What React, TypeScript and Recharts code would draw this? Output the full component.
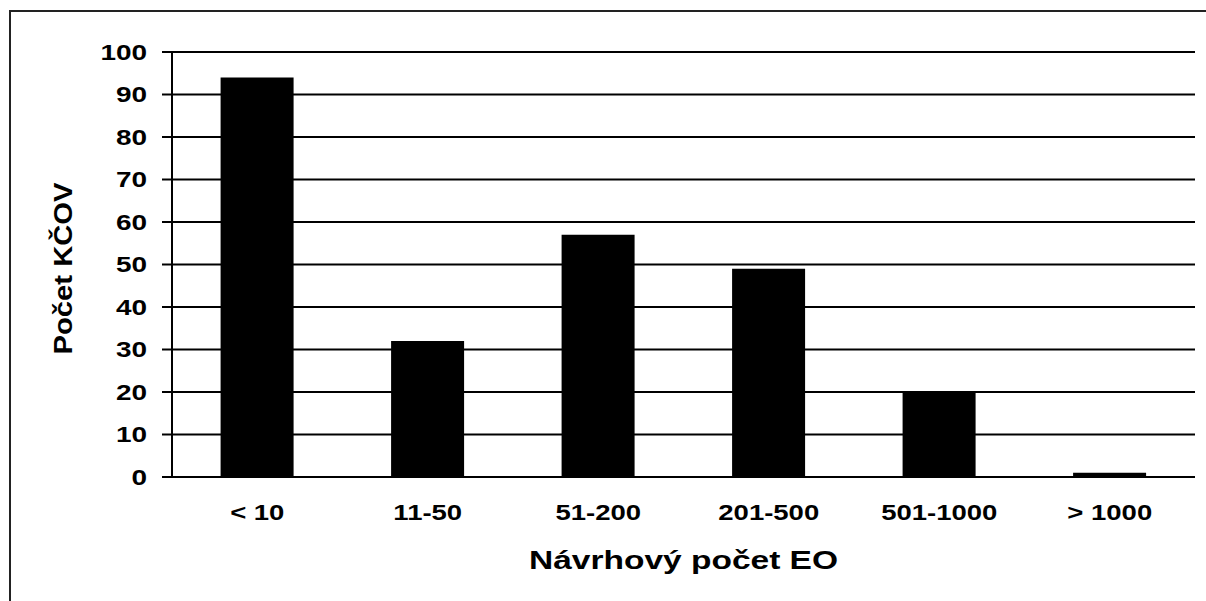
import { BarChart, Bar, XAxis, YAxis, CartesianGrid } from "recharts";

const categories = ["< 10", "11-50", "51-200", "201-500", "501-1000", "> 1000"];
const counts = [94, 32, 57, 49, 20, 1];
const yTicks = [0, 10, 20, 30, 40, 50, 60, 70, 80, 90, 100];

const data = categories.map((c, i) => ({ c, v: counts[i] }));

const FONT = "'Liberation Sans', Arial, sans-serif";

function YTick({ x, y, payload }: any) {
  return (
    <text
      transform={`translate(${x - 13},${y}) scale(1.27,1)`}
      textAnchor="end"
      dominantBaseline="central"
      fontFamily={FONT}
      fontWeight="bold"
      fontSize={22}
      fill="#000"
    >
      {payload.value}
    </text>
  );
}

function XTick({ x, y, payload }: any) {
  return (
    <text
      transform={`translate(${x},${y + 27}) scale(1.25,1)`}
      textAnchor="middle"
      dominantBaseline="central"
      fontFamily={FONT}
      fontWeight="bold"
      fontSize={22}
      fill="#000"
    >
      {payload.value}
    </text>
  );
}

export default function App() {
  return (
    <div style={{ position: "absolute", left: 0, top: 0, width: 1206, height: 601, background: "#fff", overflow: "hidden" }}>
      <div
        style={{
          position: "absolute",
          left: 9,
          top: 10,
          width: 1220,
          height: 620,
          border: "2px solid #222",
        }}
      />
      <div style={{ position: "absolute", left: 0, top: 0 }}>
        <BarChart
          width={1206}
          height={601}
          data={data}
          margin={{ top: 52, right: 11, bottom: 0, left: 12 }}
          barCategoryGap="28.5%"
        >
          <CartesianGrid vertical={false} stroke="#000" strokeWidth={2} />
          <XAxis
            dataKey="c"
            axisLine={{ stroke: "#000", strokeWidth: 2 }}
            tickLine={false}
            tick={<XTick />}
            interval={0}
            height={124}
            label={{
              content: ({ viewBox }: any) => (
                <text
                  transform={`translate(${viewBox.x + viewBox.width / 2},${viewBox.y + 83}) scale(1.34,1)`}
                  textAnchor="middle"
                  dominantBaseline="central"
                  fontFamily={FONT}
                  fontWeight="bold"
                  fontSize={25}
                  fill="#000"
                >
                  Návrhový počet EO
                </text>
              ),
            }}
          />
          <YAxis
            domain={[0, 100]}
            ticks={yTicks}
            interval={0}
            width={160}
            axisLine={{ stroke: "#000", strokeWidth: 2 }}
            tickLine={{ stroke: "#000", strokeWidth: 2 }}
            tickSize={10}
            tick={<YTick />}
            label={{
              content: ({ viewBox }: any) => (
                <text
                  transform={`translate(${viewBox.x + 51},${viewBox.y + viewBox.height / 2 + 4}) rotate(-90) scale(1.17,1)`}
                  textAnchor="middle"
                  dominantBaseline="central"
                  fontFamily={FONT}
                  fontWeight="bold"
                  fontSize={25}
                  fill="#000"
                >
                  Počet KČOV
                </text>
              ),
            }}
          />
          <YAxis
            yAxisId="r"
            orientation="right"
            domain={[0, 100]}
            width={0}
            tick={false}
            tickLine={false}
            axisLine={{ stroke: "#000", strokeWidth: 2 }}
          />
          <Bar dataKey="v" fill="#000" isAnimationActive={false} />
        </BarChart>
      </div>
    </div>
  );
}
